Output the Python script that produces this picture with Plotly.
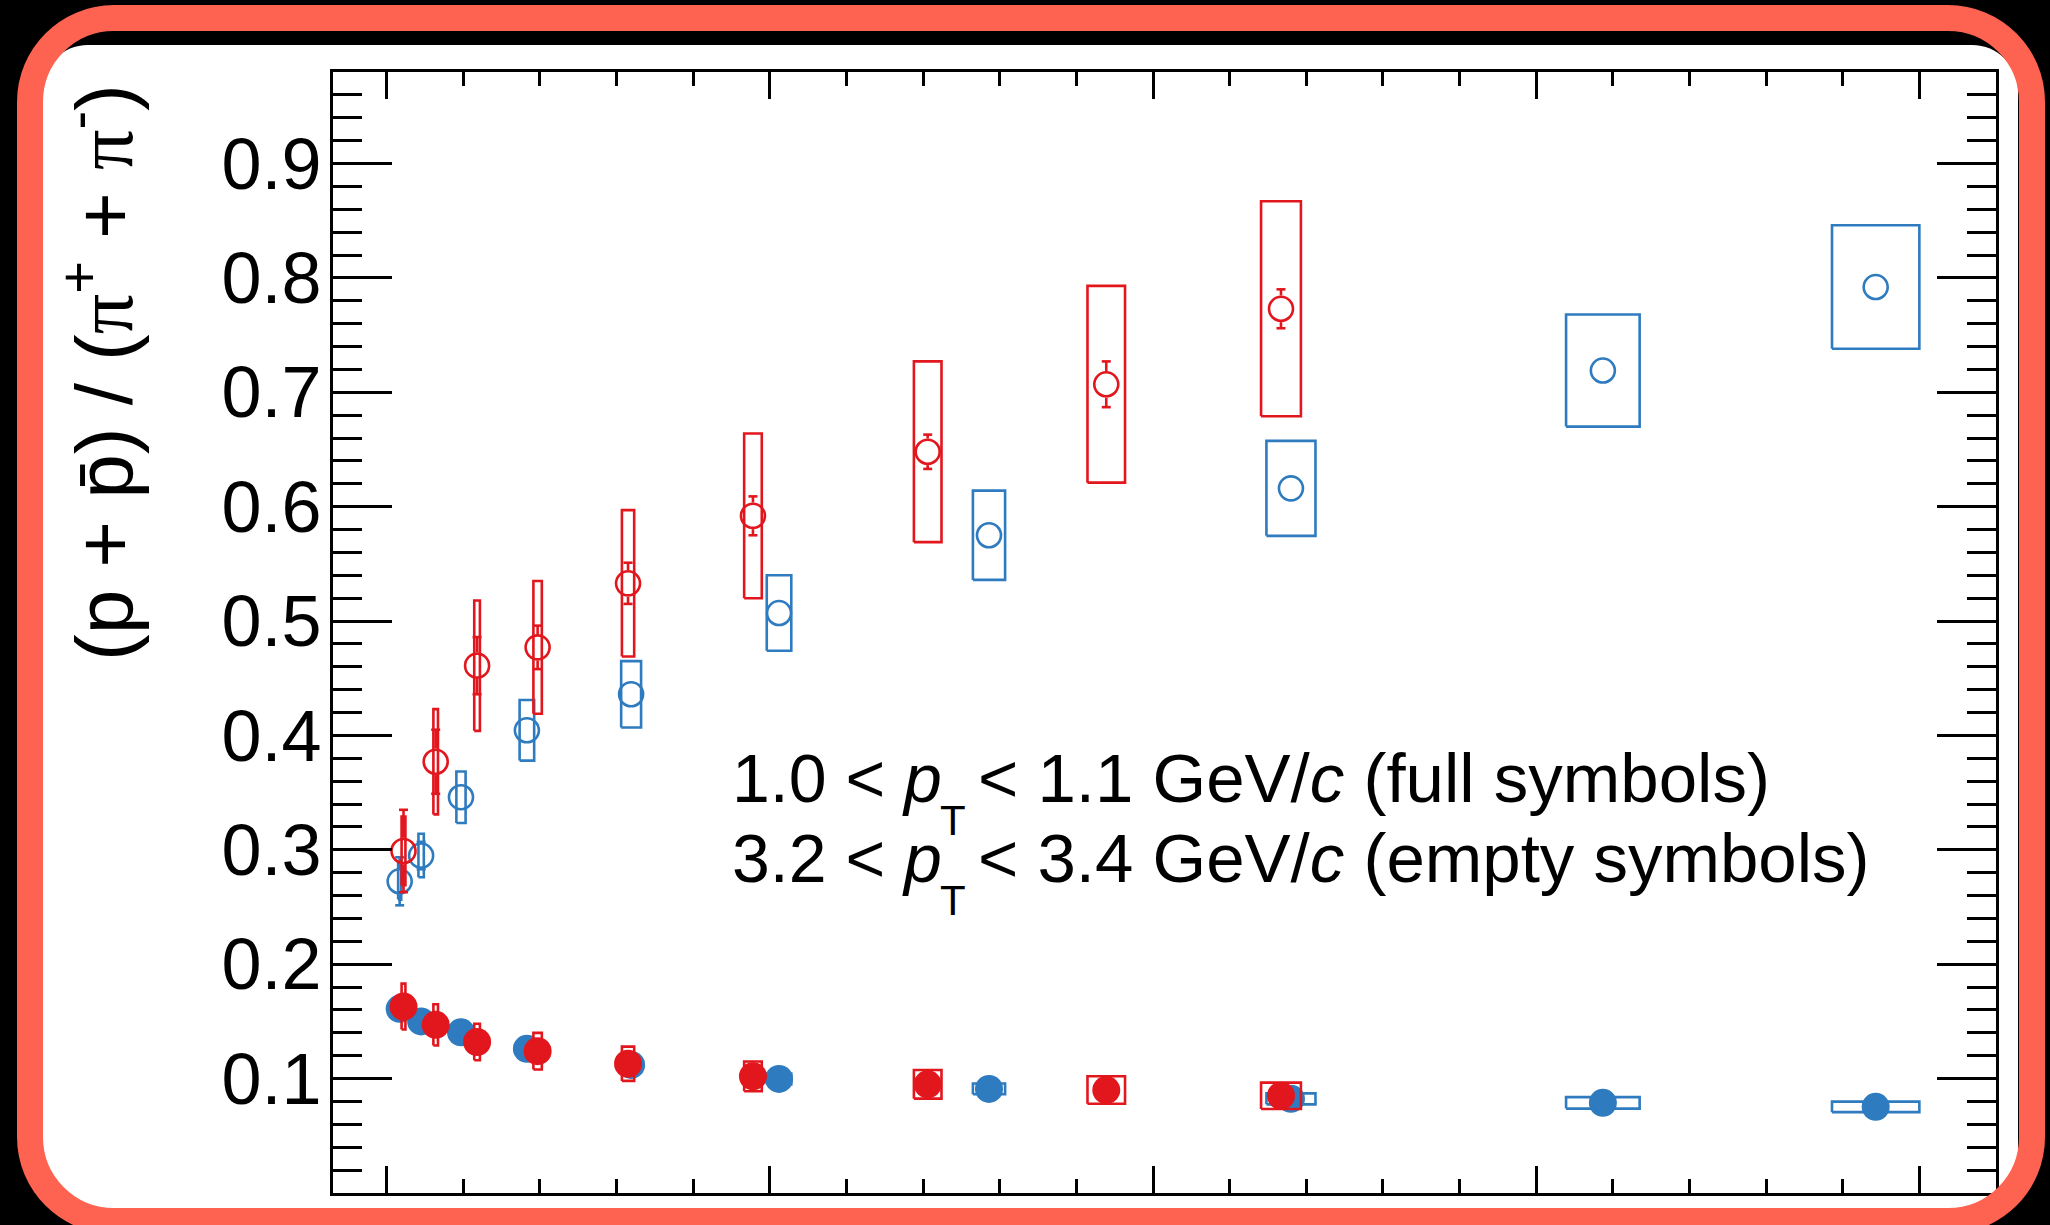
import plotly.graph_objects as go

# ---------------------------------------------------------------------------
# Data: (p + pbar)/(pi+ + pi-) versus <dNch/deta>
# ---------------------------------------------------------------------------
# Xe-Xe multiplicity classes (red) and Pb-Pb centrality classes (blue)
mult_xexe = [22, 64, 118, 197, 315, 478, 706, 939, 1167]
mult_xexe_err = [2.5, 3.0, 3.7, 5.5, 8.0, 11.5, 18.0, 24.5, 26.0]
mult_pbpb = [17, 45, 97, 183, 319, 512, 786, 1180, 1587, 1943]
mult_pbpb_err = [2.0, 3.5, 6.0, 9.5, 13.0, 16.0, 21.0, 32.0, 48.0, 57.0]

# 1.0 < pT < 1.1 GeV/c  (full symbols)
xexe_low = [0.163, 0.147, 0.132, 0.124, 0.113, 0.102, 0.095, 0.090, 0.085]
xexe_low_stat = [0.004, 0.003, 0.002, 0.002, 0.002, 0.001, 0.001, 0.001, 0.001]
xexe_low_syst = [0.020, 0.018, 0.016, 0.016, 0.015, 0.013, 0.0125, 0.012, 0.0115]
pbpb_low = [0.161, 0.150, 0.1405, 0.126, 0.112, 0.0997, 0.091, 0.0823, 0.0788, 0.0753]
pbpb_low_stat = [0.002, 0.002, 0.001, 0.001, 0.001, 0.001, 0.001, 0.001, 0.001, 0.001]
pbpb_low_syst = [0.005, 0.005, 0.005, 0.005, 0.005, 0.0048, 0.0047, 0.0048, 0.005, 0.0046]

# 3.2 < pT < 3.4 GeV/c  (empty symbols)
xexe_high = [0.299, 0.377, 0.461, 0.477, 0.533, 0.592, 0.648, 0.707, 0.773]
xexe_high_stat = [0.036, 0.028, 0.025, 0.019, 0.018, 0.017, 0.015, 0.020, 0.017]
xexe_high_syst = [0.030, 0.046, 0.057, 0.058, 0.064, 0.072, 0.079, 0.086, 0.094]
pbpb_high = [0.2725, 0.295, 0.346, 0.4045, 0.436, 0.507, 0.575, 0.616, 0.719, 0.792]
pbpb_high_stat = [0.021, 0.012, 0.009, 0.007, 0.006, 0.005, 0.005, 0.005, 0.005, 0.005]
pbpb_high_syst = [0.016, 0.019, 0.0225, 0.0265, 0.029, 0.033, 0.039, 0.0415, 0.049, 0.054]

y_tick_vals = [0.1, 0.2, 0.3, 0.4, 0.5, 0.6, 0.7, 0.8, 0.9]
y_tick_text = ["0.1", "0.2", "0.3", "0.4", "0.5", "0.6", "0.7", "0.8", "0.9"]

# ---------------------------------------------------------------------------
# Page geometry
# ---------------------------------------------------------------------------
W, H = 2050, 1225
L, R, T, B = 333, 54, 72, 32
PW, PH = W - L - R, H - T - B
X_RANGE = [-70, 2100]
Y_RANGE = [0.0, 0.98]
PX_PER_X = PW / (X_RANGE[1] - X_RANGE[0])
PX_PER_Y = PH / (Y_RANGE[1] - Y_RANGE[0])

RED = "#E2161D"
BLUE = "#2F7BBF"
FRAME = "#FE6250"
FONT = "Liberation Sans"


def px_x(p):
    return (p - L) / PW


def px_y(p):
    return (H - B - p) / PH


def rounded_path(x0, y0, x1, y1, r):
    k = 0.5523 * r
    pts = [
        ("M", [(x0 + r, y0)]),
        ("L", [(x1 - r, y0)]),
        ("C", [(x1 - r + k, y0), (x1, y0 + r - k), (x1, y0 + r)]),
        ("L", [(x1, y1 - r)]),
        ("C", [(x1, y1 - r + k), (x1 - r + k, y1), (x1 - r, y1)]),
        ("L", [(x0 + r, y1)]),
        ("C", [(x0 + r - k, y1), (x0, y1 - r + k), (x0, y1 - r)]),
        ("L", [(x0, y0 + r)]),
        ("C", [(x0, y0 + r - k), (x0 + r - k, y0), (x0 + r, y0)]),
    ]
    out = []
    for cmd, plist in pts:
        coords = " ".join(f"{px_x(a):.5f},{px_y(b):.5f}" for a, b in plist)
        out.append(f"{cmd} {coords}")
    return " ".join(out) + " Z"


def box_outline(xs, xerr, ys, yerr):
    bx, by = [], []
    for x, dx, y, dy in zip(xs, xerr, ys, yerr):
        bx += [x - dx, x + dx, x + dx, x - dx, x - dx, None]
        by += [y - dy, y - dy, y + dy, y + dy, y - dy, None]
    return bx, by


def stat_segments(xs, ys, err, gap_px, cap_px):
    gap = gap_px / PX_PER_Y
    cap = cap_px / PX_PER_X
    sx, sy = [], []
    for x, y, e in zip(xs, ys, err):
        if e <= gap:
            continue
        for sgn in (1, -1):
            sx += [x, x, None, x - cap, x + cap, None]
            sy += [y + sgn * gap, y + sgn * e, None, y + sgn * e, y + sgn * e, None]
    return sx, sy


fig = go.Figure()

OPEN_SIZE = 24
FULL_SIZE = 28


def add_series(xs, xerr, ys, stat, syst, color, open_marker):
    bx, by = box_outline(xs, xerr, ys, syst)
    fig.add_trace(go.Scatter(x=bx, y=by, mode="lines",
                             line=dict(color=color, width=2.6),
                             hoverinfo="skip", showlegend=False))
    radius = (OPEN_SIZE + 2.6) / 2 if open_marker else FULL_SIZE / 2
    sx, sy = stat_segments(xs, ys, stat, radius, 4.5)
    fig.add_trace(go.Scatter(x=sx, y=sy, mode="lines",
                             line=dict(color=color, width=2.6),
                             hoverinfo="skip", showlegend=False))
    if open_marker:
        marker = dict(symbol="circle-open", size=OPEN_SIZE, color=color,
                      line=dict(width=2.6, color=color))
    else:
        marker = dict(symbol="circle", size=FULL_SIZE, color=color, line=dict(width=0))
    fig.add_trace(go.Scatter(x=xs, y=ys, mode="markers", marker=marker,
                             hoverinfo="skip", showlegend=False))


# Pb-Pb first, Xe-Xe drawn on top
add_series(mult_pbpb, mult_pbpb_err, pbpb_high, pbpb_high_stat, pbpb_high_syst, BLUE, True)
add_series(mult_pbpb, mult_pbpb_err, pbpb_low, pbpb_low_stat, pbpb_low_syst, BLUE, False)
add_series(mult_xexe, mult_xexe_err, xexe_high, xexe_high_stat, xexe_high_syst, RED, True)
add_series(mult_xexe, mult_xexe_err, xexe_low, xexe_low_stat, xexe_low_syst, RED, False)

# ---------------------------------------------------------------------------
# Frame: white rounded card on black, with a rounded red outline on top
# ---------------------------------------------------------------------------
shapes = [
    dict(type="path", xref="paper", yref="paper", layer="below",
         path=rounded_path(42, 45, 2018, 1209, 46),
         fillcolor="white", line=dict(width=0)),
    dict(type="path", xref="paper", yref="paper", layer="above",
         path=rounded_path(30, 18, 2032, 1221, 84),
         fillcolor="rgba(0,0,0,0)", line=dict(color=FRAME, width=26)),
]

# ---------------------------------------------------------------------------
# Text
# ---------------------------------------------------------------------------
PI = "<span style=\"font-family:'Liberation Serif'\">\u03c0</span>"
annotations = [
    dict(text=f"(p + p\u0304) / ({PI}<sup>+</sup> + {PI}<sup>-</sup>)",
         textangle=-90, xref="paper", yref="paper",
         x=px_x(98), y=px_y(372), xanchor="center", yanchor="middle",
         showarrow=False, font=dict(family=FONT, size=80, color="black")),
]

legend_lines = [
    ("1.0 &lt; <i>p</i>", "&lt; 1.1 GeV/<i>c</i> (full symbols)", 802),
    ("3.2 &lt; <i>p</i>", "&lt; 3.4 GeV/<i>c</i> (empty symbols)", 882),
]
for head, tail, base in legend_lines:
    fs = 68
    cy = base - 0.35 * fs
    annotations.append(dict(text=head, xref="paper", yref="paper",
                            x=px_x(730), y=px_y(cy), xanchor="left", yanchor="middle",
                            showarrow=False, font=dict(family=FONT, size=fs, color="black")))
    annotations.append(dict(text=tail, xref="paper", yref="paper",
                            x=px_x(976), y=px_y(cy), xanchor="left", yanchor="middle",
                            showarrow=False, font=dict(family=FONT, size=fs + 1, color="black")))
    fs_t = 42
    annotations.append(dict(text="T", xref="paper", yref="paper",
                            x=px_x(938), y=px_y(base + 33 - 0.35 * fs_t),
                            xanchor="left", yanchor="middle",
                            showarrow=False, font=dict(family=FONT, size=fs_t, color="black")))

fig.update_layout(
    width=W, height=H,
    margin=dict(l=L, r=R, t=T, b=B, pad=0),
    paper_bgcolor="black",
    plot_bgcolor="white",
    shapes=shapes,
    annotations=annotations,
    showlegend=False,
)

fig.update_xaxes(
    range=X_RANGE, showgrid=False, zeroline=False,
    showline=True, linecolor="black", linewidth=3, mirror="allticks",
    ticks="inside", ticklen=27, tickwidth=3, tickcolor="black",
    tick0=0, dtick=500, showticklabels=False,
    minor=dict(ticks="inside", ticklen=14, tickwidth=3, tickcolor="black",
               tick0=0, dtick=100, showgrid=False),
)
fig.update_yaxes(
    range=Y_RANGE, showgrid=False, zeroline=False,
    showline=True, linecolor="black", linewidth=3, mirror="allticks",
    ticks="inside", ticklen=59, tickwidth=3, tickcolor="black",
    tickmode="array", tickvals=y_tick_vals, ticktext=y_tick_text,
    tickfont=dict(family=FONT, size=72, color="black"),
    ticklabelstandoff=-6,
    minor=dict(ticks="inside", ticklen=29, tickwidth=3, tickcolor="black",
               tickmode="linear", tick0=0, dtick=0.02, showgrid=False),
)

fig.write_html("out.html")
